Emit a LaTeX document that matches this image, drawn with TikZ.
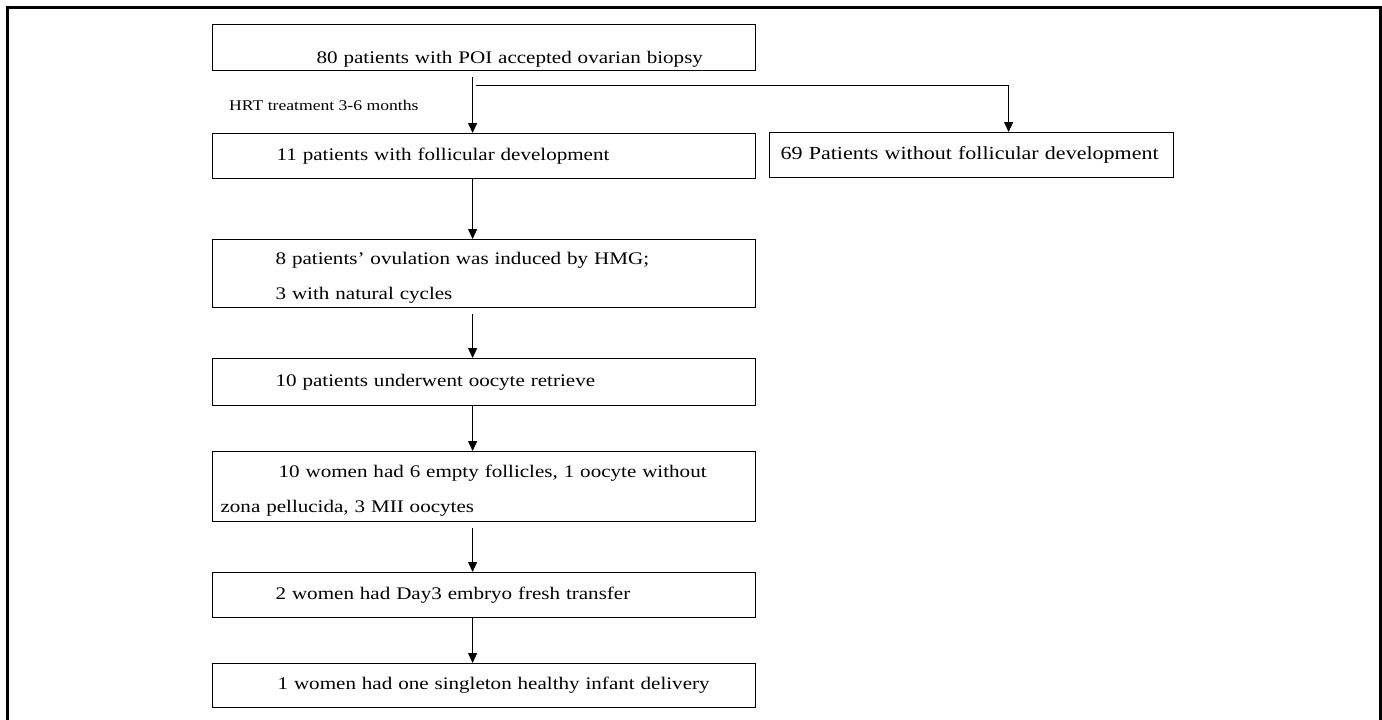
\documentclass[tikz,border=0pt]{standalone}
\usepackage{fontspec}
\setmainfont[FakeStretch=1.19]{Liberation Serif}
\usetikzlibrary{arrows.meta, positioning}
\tikzset{
    flowBox/.style={
        draw, line width=1.2pt, anchor=north west,
        text width=527pt, align=left,
        inner xsep=8pt, inner ysep=0pt,
        font=\fontsize{17.7pt}{35pt}\selectfont
    },
    sideBox/.style={
        flowBox, text width=388pt
    },
    flowArrow/.style={
        line width=1.2pt, -{Triangle[length=10pt, width=9pt]}
    },
    noteText/.style={
        anchor=base west, inner sep=0pt,
        font=\fontsize{14.8pt}{18pt}\selectfont
    },
    frameLine/.style={line width=2.5pt}
}
\newcommand{\padLine}[1]{\hspace*{#1pt}}

\begin{document}
\begin{tikzpicture}[x=1pt, y=-1pt]
    \useasboundingbox (0,0) rectangle (1382,720);
    % outer frame, its bottom edge runs off the page
    \draw[frameLine] (7.5,730) -- (7.5,7.5) -- (1380.5,7.5) -- (1380.5,730);

    \node[flowBox, minimum height=46pt, text height=39pt, text depth=7pt] (biopsy) at (212,24)
        {\padLine{96}80 patients with POI accepted ovarian biopsy};
    \node[noteText] (hrt) at (229,110) {HRT treatment 3-6 months};
    \node[flowBox, minimum height=45pt] (follicle) at (212,133)
        {\padLine{56}11 patients with follicular development};
    \node[sideBox, minimum height=45pt, font=\fontsize{18.5pt}{35pt}\selectfont] (noFollicle) at (769,132)
        {\padLine{3}69 Patients without follicular development};
    \node[flowBox, minimum height=68pt, text height=20pt] (induction) at (212,239)
        {\padLine{55}8 patients’ ovulation was induced by HMG;\\
         \padLine{55}3 with natural cycles};
    \node[flowBox, minimum height=47pt] (retrieval) at (212,358)
        {\padLine{55}10 patients underwent oocyte retrieve};
    \node[flowBox, minimum height=70pt, text height=20pt] (oocytes) at (212,451)
        {\padLine{58}10 women had 6 empty follicles, 1 oocyte without\\
         zona pellucida, 3 MII oocytes};
    \node[flowBox, minimum height=45pt] (transfer) at (212,572)
        {\padLine{55}2 women had Day3 embryo fresh transfer};
    \node[flowBox, minimum height=44pt] (delivery) at (212,663)
        {\padLine{57}1 women had one singleton healthy infant delivery};

    % split after the biopsy
    \draw[flowArrow, shorten <=6pt] ([xshift=-11.5pt]biopsy.south) -- ([xshift=-11.5pt]follicle.north);
    \coordinate (branch) at (476,85);
    \draw[flowArrow, line width=1pt] (branch) -| ([xshift=37pt]noFollicle.north);

    % main column
    \foreach \from/\to/\gap in {follicle/induction/0, induction/retrieval/6,
        retrieval/oocytes/0, oocytes/transfer/6, transfer/delivery/0}
        \draw[flowArrow, shorten <=\gap pt] ([xshift=-11.5pt]\from.south) -- ([xshift=-11.5pt]\to.north);
\end{tikzpicture}
\end{document}
